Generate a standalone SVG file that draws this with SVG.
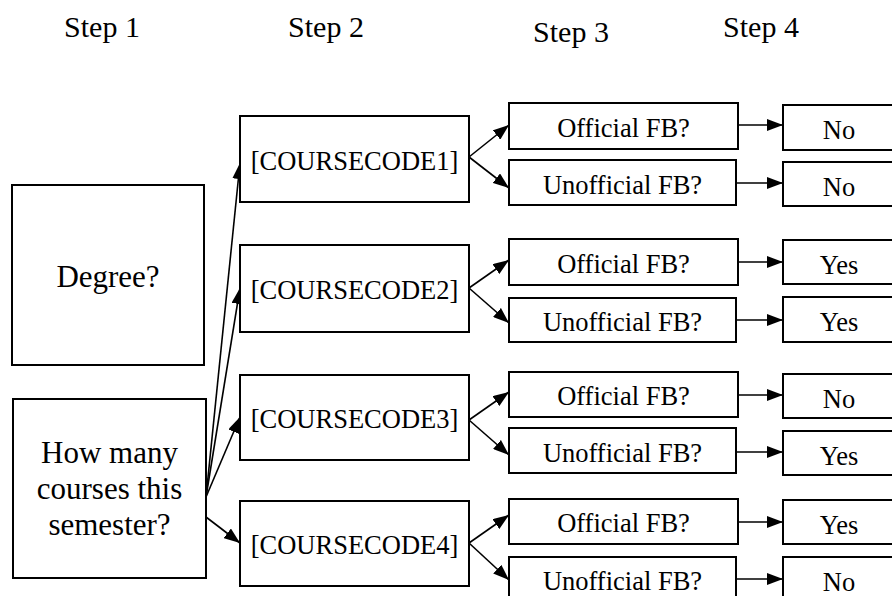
<svg xmlns="http://www.w3.org/2000/svg" width="892" height="596" viewBox="0 0 892 596">
<style>
.box{fill:#fff;stroke:#000;stroke-width:2}
text{font-family:"Liberation Serif","Times New Roman",serif;fill:#000;text-anchor:middle}
.h{font-size:30px}
.big{font-size:31px}
.t{font-size:26.5px}
.c{stroke:#000;stroke-width:1.6;fill:none;marker-end:url(#ah)}
</style>
<defs>
<marker id="ah" viewBox="0 0 16 12" refX="16" refY="6" markerWidth="16" markerHeight="12" markerUnits="userSpaceOnUse" orient="auto">
<path d="M0,0 L16,6 L0,12 z" fill="#000"/>
</marker>
</defs>
<rect width="892" height="596" fill="#fff"/>
<g id="headers">
<text class="h" x="102" y="37">Step 1</text>
<text class="h" x="326" y="37">Step 2</text>
<text class="h" x="571" y="42">Step 3</text>
<text class="h" x="761" y="37">Step 4</text>
</g>
<g id="connectors">
<line class="c" x1="206" y1="497" x2="240" y2="163"/>
<line class="c" x1="206" y1="497" x2="240" y2="288"/>
<line class="c" x1="206" y1="497" x2="240" y2="417"/>
<line class="c" x1="206" y1="517" x2="240" y2="543"/>
<line class="c" x1="469" y1="157" x2="509" y2="125"/>
<line class="c" x1="469" y1="157" x2="509" y2="188"/>
<line class="c" x1="469" y1="288" x2="509" y2="260"/>
<line class="c" x1="469" y1="288" x2="509" y2="323"/>
<line class="c" x1="469" y1="420" x2="509" y2="392"/>
<line class="c" x1="469" y1="420" x2="509" y2="455"/>
<line class="c" x1="469" y1="543" x2="509" y2="515"/>
<line class="c" x1="469" y1="543" x2="509" y2="580"/>
<line class="c" x1="738" y1="125" x2="783" y2="125"/>
<line class="c" x1="736" y1="183" x2="783" y2="183"/>
<line class="c" x1="738" y1="262" x2="783" y2="262"/>
<line class="c" x1="736" y1="320" x2="783" y2="320"/>
<line class="c" x1="738" y1="395" x2="783" y2="395"/>
<line class="c" x1="736" y1="452" x2="783" y2="452"/>
<line class="c" x1="738" y1="522" x2="783" y2="522"/>
<line class="c" x1="736" y1="579" x2="783" y2="579"/>
</g>
<g id="degree"><rect class="box" x="12" y="185" width="192" height="180"/><text class="big" x="108" y="287">Degree?</text></g>
<g id="howmany"><rect class="box" x="13" y="399" width="193" height="179"/>
<text class="big" x="109.5" y="463">How many</text><text class="big" x="109.5" y="499">courses this</text><text class="big" x="109.5" y="535">semester?</text></g>
<g id="cc1"><rect class="box" x="240" y="116" width="229" height="86"/><text class="t" x="354.5" y="170">[COURSECODE1]</text></g>
<g id="cc2"><rect class="box" x="240" y="245" width="229" height="87"/><text class="t" x="354.5" y="299">[COURSECODE2]</text></g>
<g id="cc3"><rect class="box" x="240" y="375" width="229" height="85"/><text class="t" x="354.5" y="428">[COURSECODE3]</text></g>
<g id="cc4"><rect class="box" x="240" y="501" width="229" height="85"/><text class="t" x="354.5" y="554">[COURSECODE4]</text></g>
<g id="of1"><rect class="box" x="509" y="103" width="229" height="46"/><text class="t" x="623.5" y="137">Official FB?</text></g>
<g id="uf1"><rect class="box" x="509" y="160" width="227" height="45"/><text class="t" x="622.5" y="194">Unofficial FB?</text></g>
<g id="of2"><rect class="box" x="509" y="239" width="229" height="46"/><text class="t" x="623.5" y="273">Official FB?</text></g>
<g id="uf2"><rect class="box" x="509" y="298" width="227" height="44"/><text class="t" x="622.5" y="331">Unofficial FB?</text></g>
<g id="of3"><rect class="box" x="509" y="372" width="229" height="45"/><text class="t" x="623.5" y="405">Official FB?</text></g>
<g id="uf3"><rect class="box" x="509" y="428" width="227" height="45"/><text class="t" x="622.5" y="462">Unofficial FB?</text></g>
<g id="of4"><rect class="box" x="509" y="499" width="229" height="45"/><text class="t" x="623.5" y="532">Official FB?</text></g>
<g id="uf4"><rect class="box" x="509" y="557" width="227" height="45"/><text class="t" x="622.5" y="590">Unofficial FB?</text></g>
<g id="r1"><rect class="box" x="783" y="105" width="114" height="45"/><text class="t" x="839" y="139">No</text></g>
<g id="r2"><rect class="box" x="783" y="162" width="114" height="44"/><text class="t" x="839" y="196">No</text></g>
<g id="r3"><rect class="box" x="783" y="240" width="114" height="44"/><text class="t" x="839" y="274">Yes</text></g>
<g id="r4"><rect class="box" x="783" y="297" width="114" height="45"/><text class="t" x="839" y="331">Yes</text></g>
<g id="r5"><rect class="box" x="783" y="374" width="114" height="44"/><text class="t" x="839" y="408">No</text></g>
<g id="r6"><rect class="box" x="783" y="431" width="114" height="44"/><text class="t" x="839" y="465">Yes</text></g>
<g id="r7"><rect class="box" x="783" y="500" width="114" height="44"/><text class="t" x="839" y="534">Yes</text></g>
<g id="r8"><rect class="box" x="783" y="557" width="114" height="45"/><text class="t" x="839" y="591">No</text></g>
</svg>
